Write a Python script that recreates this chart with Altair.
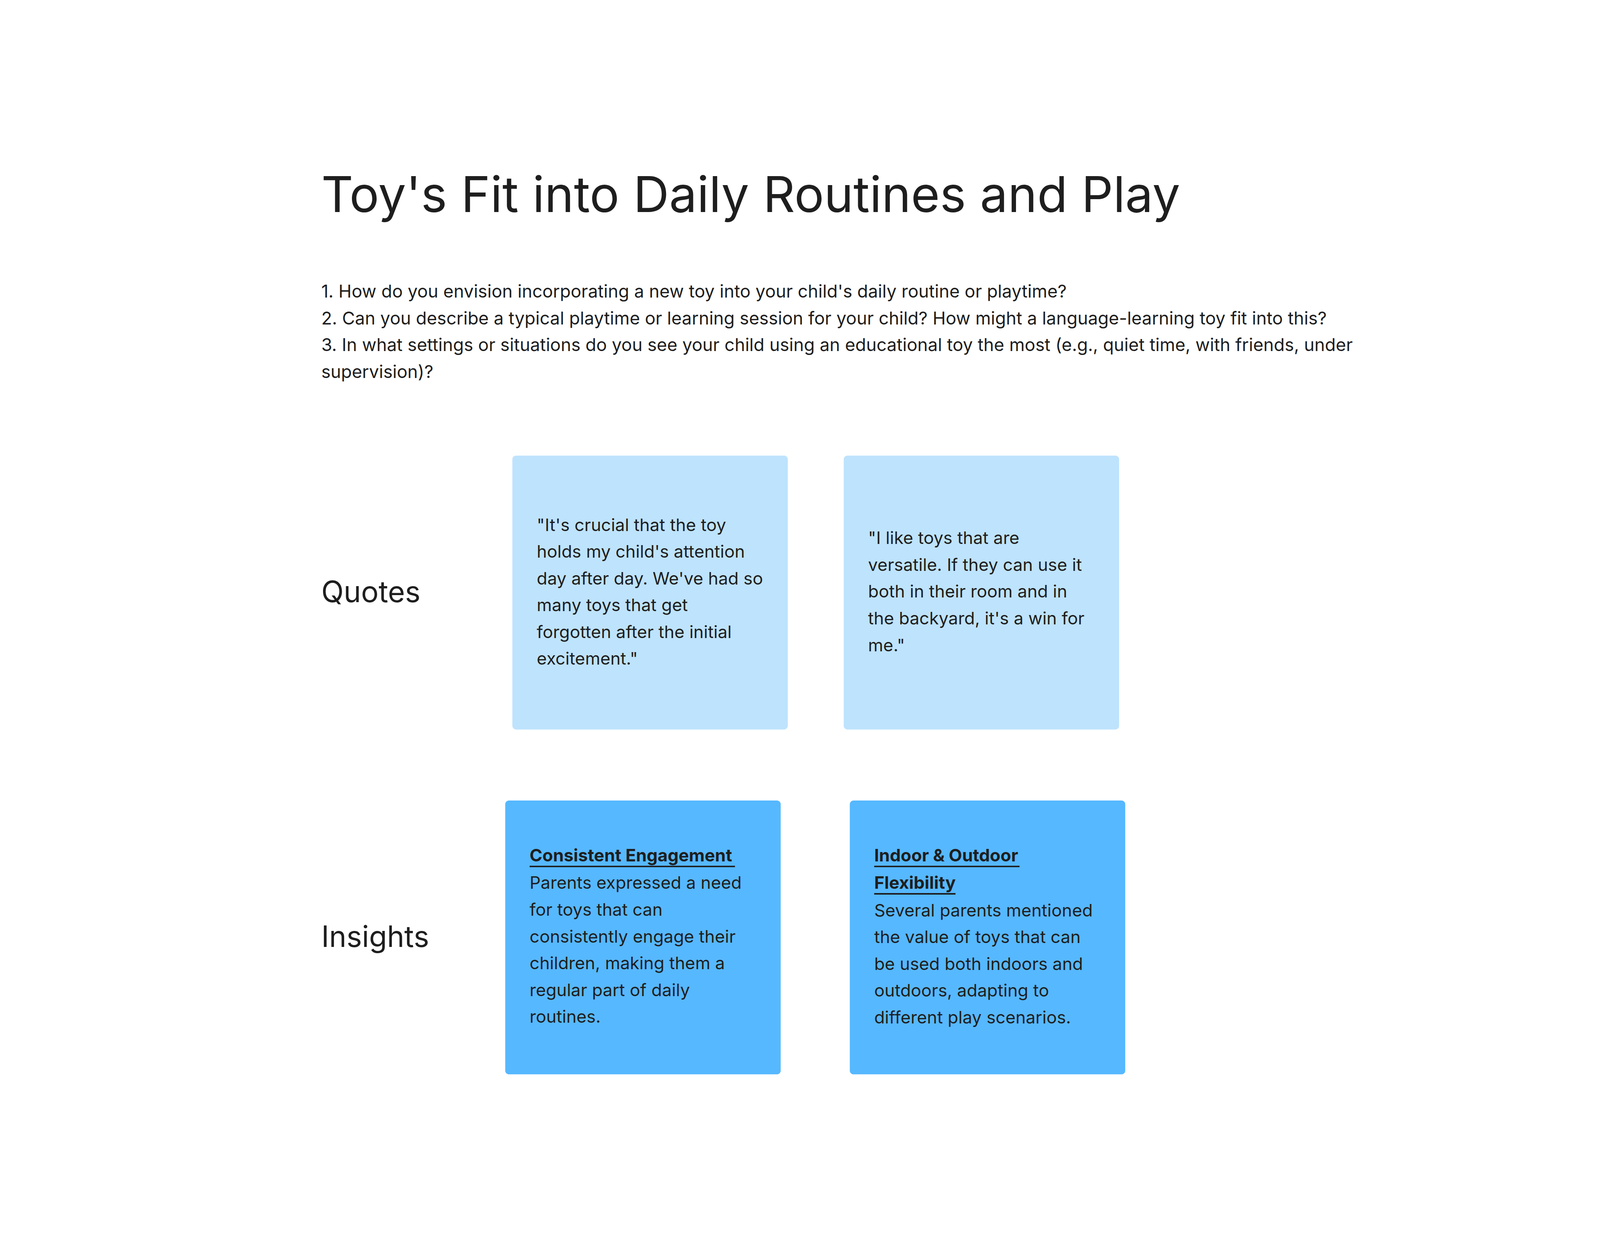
import altair as alt
import pandas as pd

# page layout is in reference "display" units (1568 x 1178), scaled up by the axes
W, H = 1568, 1178

title = "Toy's Fit into Daily Routines and Play"
questions = [
    "1.  How do you envision incorporating a new toy into your child's daily routine or playtime?",
    "2.  Can you describe a typical playtime or learning session for your child? How might a language-learning toy fit into this?",
    "3.  In what settings or situations do you see your child using an educational toy the most (e.g., quiet time, with friends, under",
    "      supervision)?",
]
row_labels = ["Quotes", "Insights"]
row_label_y = [559, 899]

card_x0 = [501, 827, 494, 833]
card_x1 = [772, 1098, 765, 1104]
card_y0 = [423, 423, 763, 763]
card_y1 = [693, 693, 1033, 1033]
card_kind = ["quote", "quote", "insight", "insight"]

card_lines = [
    ["\"It's crucial that the toy", "holds my child's attention", "day after day. We've had so",
     "many toys that get", "forgotten after the initial", "excitement.\""],
    [" \"I like toys that are", "versatile. If they can use it", "both in their room and in",
     "the backyard, it's a win for", "me.\""],
    ["Parents expressed a need", "for toys that can", "consistently engage their",
     "children, making them a", "regular part of daily", "routines."],
    ["Several parents mentioned", "the value of toys that can", "be used both indoors and",
     "outdoors, adapting to", "different play scenarios."],
]
card_first_y = [492, 505, 845, 872]
text_x = [525, 851, 518, 857]
heads = [["Consistent Engagement"], ["Indoor & Outdoor", "Flexibility"]]
head_y = [[818], [818, 845]]
head_x = [518, 857]
head_w = [[202], [143, 80]]
LINE = 26.4

cards = pd.DataFrame({"x": card_x0, "x2": card_x1, "y": card_y0, "y2": card_y1, "kind": card_kind})
body = pd.DataFrame([
    {"x": text_x[i], "y": card_first_y[i] + j * LINE, "t": line}
    for i, lines in enumerate(card_lines) for j, line in enumerate(lines)
])
hd = pd.DataFrame([
    {"x": head_x[i], "y": head_y[i][j], "x2": head_x[i] + head_w[i][j], "t": t}
    for i, hs in enumerate(heads) for j, t in enumerate(hs)
])
qs = pd.DataFrame({"x": [313] * 4, "y": [262 + k * LINE for k in range(4)], "t": questions})
rows = pd.DataFrame({"x": [313, 313], "y": row_label_y, "t": row_labels})
ttl = pd.DataFrame({"x": [313], "y": [168], "t": [title]})

xs = alt.Scale(domain=[0, W], nice=False, zero=False)
ys = alt.Scale(domain=[H, 0], nice=False, zero=False)


def X(f="x"):
    return alt.X(f, type="quantitative", scale=xs, axis=None)


def Y(f="y"):
    return alt.Y(f, type="quantitative", scale=ys, axis=None)


rect = alt.Chart(cards).mark_rect(cornerRadius=10).encode(
    x=X(), x2="x2", y=Y(), y2="y2",
    color=alt.Color("kind:N", scale=alt.Scale(domain=["quote", "insight"], range=["#BEE3FD", "#56B8FF"]), legend=None),
)
txt = dict(font="Inter", align="left", baseline="middle", color="#1E1E1E")
body_t = alt.Chart(body).mark_text(fontSize=46, **txt).encode(x=X(), y=Y(), text="t")
head_t = alt.Chart(hd).mark_text(fontSize=46, fontWeight="bold", **txt).encode(x=X(), y=Y(), text="t")
under = alt.Chart(hd).mark_rule(color="#1E1E1E", strokeWidth=4).encode(
    x=X(), x2="x2", y=Y("u")
).transform_calculate(u="datum.y + 10")
q_t = alt.Chart(qs).mark_text(fontSize=47, **txt).encode(x=X(), y=Y(), text="t")
r_t = alt.Chart(rows).mark_text(fontSize=78, **txt).encode(x=X(), y=Y(), text="t")
t_t = alt.Chart(ttl).mark_text(fontSize=132, **txt).encode(x=X(), y=Y(), text="t")

chart = alt.layer(rect, body_t, head_t, under, q_t, r_t, t_t).properties(
    width=4240, height=3180, padding=0, background="white"
).configure_view(stroke=None)

chart.save("out.html", embed_options={"renderer": "svg", "actions": False})
